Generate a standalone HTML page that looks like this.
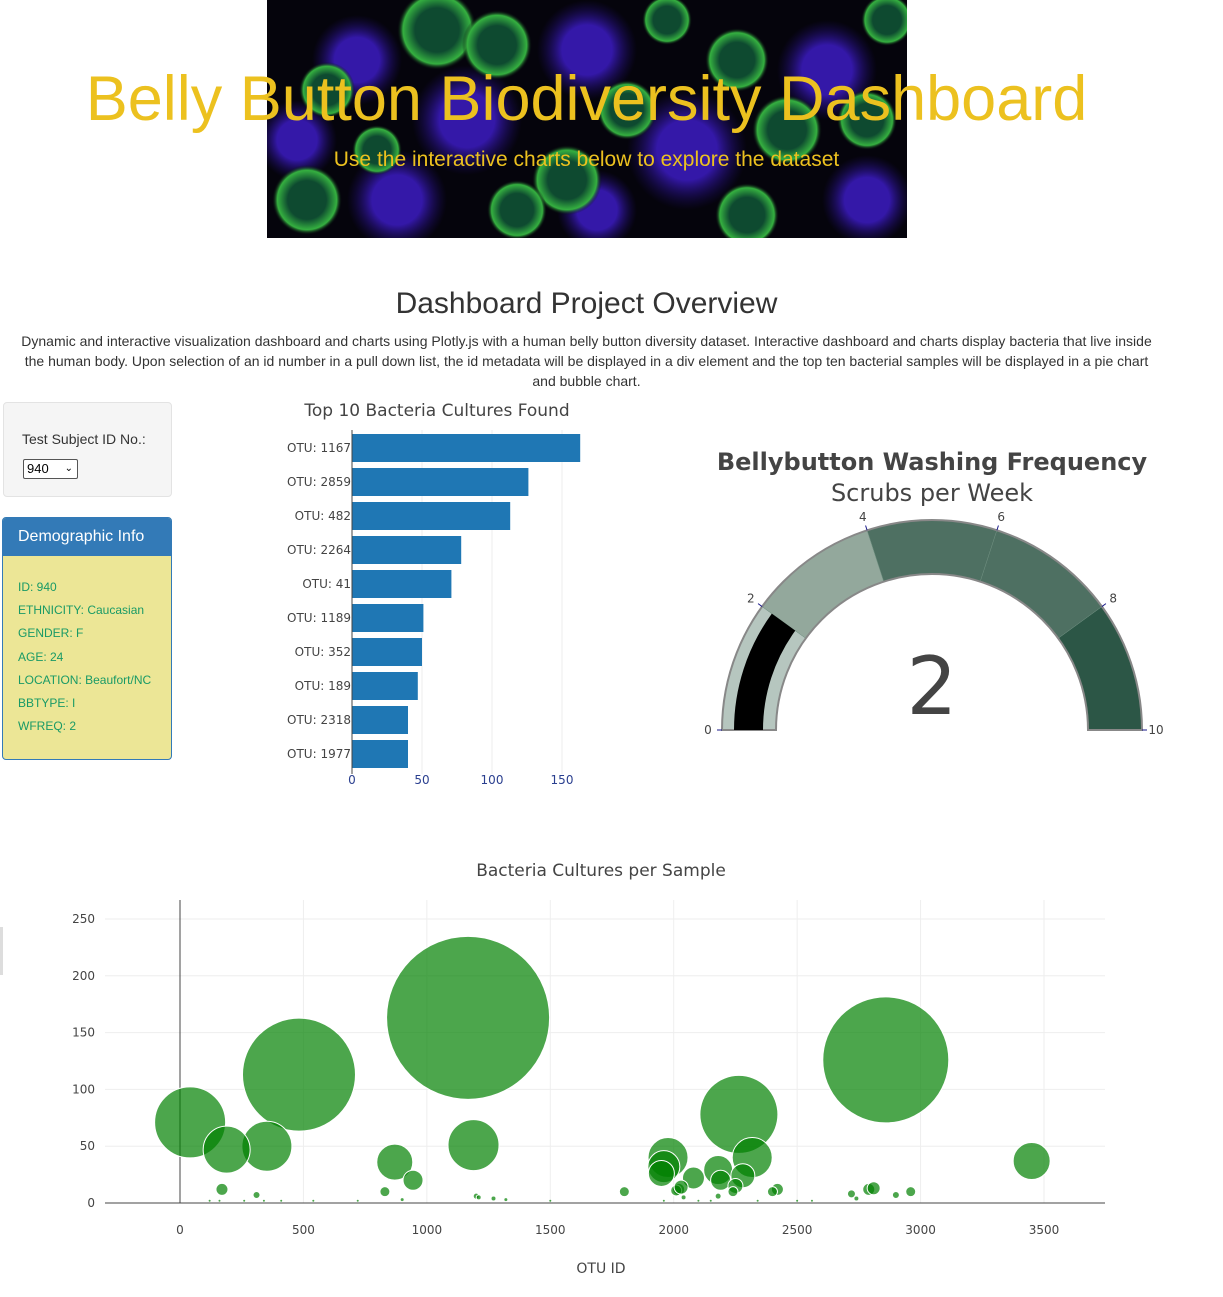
<!DOCTYPE html>
<html><head><meta charset="utf-8">
<style>
body{margin:0;width:1223px;height:1297px;position:relative;background:#fff;font-family:"Liberation Sans",sans-serif;overflow:hidden}
.abs{position:absolute}
#hero{left:267px;top:0;width:640px;height:238px;background:#05040c;overflow:hidden}
</style></head><body>
<div id="hero" class="abs">
<svg width="640" height="238">
<defs><radialGradient id="gc"><stop offset="0.55" stop-color="#0e4a30"/><stop offset="0.85" stop-color="#35b040"/><stop offset="1" stop-color="#05040c" stop-opacity="0"/></radialGradient>
<radialGradient id="bc"><stop offset="0.5" stop-color="#3418a8"/><stop offset="1" stop-color="#1a0a60" stop-opacity="0"/></radialGradient></defs>
<g fill="url(#bc)"><circle cx="90" cy="60" r="45"/><circle cx="200" cy="120" r="55"/><circle cx="320" cy="50" r="50"/><circle cx="420" cy="150" r="60"/><circle cx="560" cy="70" r="50"/><circle cx="130" cy="200" r="50"/><circle cx="600" cy="200" r="45"/><circle cx="30" cy="140" r="40"/><circle cx="330" cy="210" r="40"/></g>
<g fill="url(#gc)"><circle cx="170" cy="30" r="40"/><circle cx="230" cy="45" r="35"/><circle cx="40" cy="200" r="35"/><circle cx="60" cy="90" r="28"/><circle cx="300" cy="180" r="35"/><circle cx="360" cy="110" r="30"/><circle cx="470" cy="60" r="32"/><circle cx="520" cy="130" r="35"/><circle cx="600" cy="120" r="30"/><circle cx="250" cy="210" r="30"/><circle cx="480" cy="215" r="32"/><circle cx="620" cy="20" r="26"/><circle cx="110" cy="150" r="25"/><circle cx="400" cy="20" r="25"/></g>
</svg></div>
<div class="abs" style="left:0;width:1173px;top:63px;text-align:center;font-size:63px;color:#ecc11f">Belly Button Biodiversity Dashboard</div>
<div class="abs" style="left:0;width:1173px;top:148px;text-align:center;font-size:21px;color:#ecc11f">Use the interactive charts below to explore the dataset</div>
<div class="abs" style="left:0;width:1173px;top:287px;text-align:center;font-size:30px;color:#333">Dashboard Project Overview</div>
<div class="abs" style="left:14px;width:1145px;top:331px;text-align:center;font-size:14px;line-height:20px;color:#333">Dynamic and interactive visualization dashboard and charts using Plotly.js with a human belly button diversity dataset. Interactive dashboard and charts display bacteria that live inside the human body. Upon selection of an id number in a pull down list, the id metadata will be displayed in a div element and the top ten bacterial samples will be displayed in a pie chart and bubble chart.</div>

<div class="abs" style="left:3px;top:402px;width:167px;height:93px;background:#f5f5f5;border:1px solid #e3e3e3;border-radius:4px">
<div style="position:absolute;left:18px;top:28px;font-size:14px;color:#333">Test Subject ID No.:</div>
<div style="position:absolute;left:19px;top:56px;border:1px solid #555;border-radius:2px;background:#fff;font-size:13px;line-height:18px;padding-left:3px;box-sizing:border-box;width:55px;height:20px">940<span style="position:absolute;right:4px;top:0;font-size:10px">&#8964;</span></div>
</div>
<div class="abs" style="left:2px;top:517px;width:168px;height:241px;border:1px solid #337ab7;border-radius:4px;background:#ece696;overflow:hidden">
<div style="background:#337ab7;color:#fff;height:38px;font-size:16px;line-height:38px;padding-left:15px">Demographic Info</div>
<div style="padding:20px 0 0 15px;font-size:12px;line-height:23.2px;color:#199a66">ID: 940<br>ETHNICITY: Caucasian<br>GENDER: F<br>AGE: 24<br>LOCATION: Beaufort/NC<br>BBTYPE: I<br>WFREQ: 2</div>
</div>
<div class="abs" style="left:0;top:927px;width:3px;height:48px;background:#ddd"></div>

<svg class="abs" id="bar" style="left:0;top:395px" width="620" height="410"></svg>
<svg class="abs" id="gauge" style="left:620px;top:430px" width="603" height="330"></svg>
<svg class="abs" id="bubble" style="left:0;top:850px" width="1223" height="447"></svg>

<script>
const NS="http://www.w3.org/2000/svg";
function mk(p,t,a,txt){const e=document.createElementNS(NS,t);for(const k in a)e.setAttribute(k,a[k]);if(txt!=null)e.textContent=txt;p.appendChild(e);return e;}
const FV='"DejaVu Sans",sans-serif';

// ---- bar chart data
const barLabels=["OTU: 1167","OTU: 2859","OTU: 482","OTU: 2264","OTU: 41","OTU: 1189","OTU: 352","OTU: 189","OTU: 2318","OTU: 1977"];
const barValues=[163,126,113,78,71,51,50,47,40,40];
const barTicks=[0,50,100,150];
(function(){
 const s=document.getElementById('bar');
 const x0=352,k=1.4,yTop=434-395,step=34;
 const xs=v=>x0+v*k;
 const t=mk(s,'text',{x:437,y:21,'text-anchor':'middle','font-size':17,fill:'#444','font-family':FV},'Top 10 Bacteria Cultures Found');
 
 barTicks.forEach(v=>{ if(v>0){const g=mk(s,'line',{x1:xs(v),x2:xs(v),y1:yTop-4,y2:yTop+step*10,stroke:'#eee'});}
  const l=mk(s,'text',{x:xs(v),y:389,'text-anchor':'middle','font-size':12,fill:'#2a3f8f','font-family':FV},v);
  });
 barValues.forEach((v,i)=>{const y=yTop+i*step;
  const r=mk(s,'rect',{x:x0,y:y,width:v*k,height:28,fill:'#1f77b4'});
  
  const l=mk(s,'text',{x:x0-1,y:y+18,'text-anchor':'end','font-size':12,fill:'#444','font-family':FV},barLabels[i]);
  });
 const ax=mk(s,'line',{x1:x0,x2:x0,y1:yTop-4,y2:yTop+step*10,stroke:'#444'});
 
})();

// ---- gauge data
const gaugeValue=2;
const gaugeMax=10;
const gaugeSteps=[[0,2,'#b6c6bf'],[2,4,'#93a89c'],[4,6,'#4e7062'],[6,8,'#4e7062'],[8,10,'#2c5646']];
const gaugeTicks=[0,2,4,6,8,10];
(function(){
 const s=document.getElementById('gauge');
 const cx=312,cy=300,R=210,r=156;
 const ang=v=>Math.PI*(1-v/gaugeMax);
 const pt=(v,rad)=>[cx+rad*Math.cos(ang(v)),cy-rad*Math.sin(ang(v))];
 function arc(a,b,ro,ri){const p1=pt(a,ro),p2=pt(b,ro),p3=pt(b,ri),p4=pt(a,ri);
  return `M${p1[0]},${p1[1]} A${ro},${ro} 0 0 1 ${p2[0]},${p2[1]} L${p3[0]},${p3[1]} A${ri},${ri} 0 0 0 ${p4[0]},${p4[1]} Z`;}
 let t=mk(s,'text',{x:312,y:40,'text-anchor':'middle','font-size':24,'font-weight':'bold',fill:'#444','font-family':FV},'Bellybutton Washing Frequency');
 
 t=mk(s,'text',{x:312,y:71,'text-anchor':'middle','font-size':24,fill:'#444','font-family':FV},'Scrubs per Week');
 
 gaugeSteps.forEach(st=>{const p=mk(s,'path',{d:arc(st[0],st[1],R,r),fill:st[2],stroke:'#6f8f80','stroke-width':0.5});
  });
 const o=mk(s,'path',{d:arc(0,gaugeMax,R,r),fill:'none',stroke:'#888','stroke-width':2});
 
 const b=mk(s,'path',{d:arc(0,gaugeValue,R-12,r+13),fill:'#000'});
 
 gaugeTicks.forEach(v=>{const a=pt(v,R),c=pt(v,R+5),l=pt(v,R+14);
  const ln=mk(s,'line',{x1:a[0],y1:a[1],x2:c[0],y2:c[1],stroke:'#1a1a8a'});
  const tx=mk(s,'text',{x:l[0],y:l[1]+4,'text-anchor':'middle','font-size':12,fill:'#444','font-family':FV},v);
  });
 t=mk(s,'text',{x:cx,y:284,'text-anchor':'middle','font-size':80,fill:'#444','font-family':FV},gaugeValue);
 
})();

// ---- bubble data
const otuIds=[1167,2859,482,2264,41,1189,352,189,2318,1977,870,944,1960,1950,2080,2180,2190,2280,2250,170,2020,2240,2420,2400,2790,2810,2960,3450,1800,830,2720,2900,310,2010,2030,1200,1210,2740,2040,2180,1270,1320,900,120,160,260,340,410,540,720,1500,1960,2100,2150,2340,2500,2560];
const sampleValues=[163,126,113,78,71,51,50,47,40,40,36,20,32,26,22,29,20,24,15,12,12,10,12,10,12,13,10,37,10,10,8,7,7,11,14,6,5,4,5,6,4,3,3,2,2,2,2,2,2,2,2,2,2,2,2,2,2];
const xTicks=[0,500,1000,1500,2000,2500,3000,3500];
const yTicks=[0,50,100,150,200,250];
(function(){
 const s=document.getElementById('bubble');
 const X=v=>180+v*0.24686, Y=v=>353-v*1.136;
 const L=105,Rt=1105,T=50;
 let t=mk(s,'text',{x:601,y:26,'text-anchor':'middle','font-size':17,fill:'#444','font-family':FV},'Bacteria Cultures per Sample');
 
 xTicks.forEach(v=>{const g=mk(s,'line',{x1:X(v),x2:X(v),y1:T,y2:Y(0),stroke:'#eee'});
  const l=mk(s,'text',{x:X(v),y:384,'text-anchor':'middle','font-size':12,fill:'#444','font-family':FV},v);});
 yTicks.forEach(v=>{const g=mk(s,'line',{x1:L,x2:Rt,y1:Y(v),y2:Y(v),stroke:v?'#eee':'#444'});
  const l=mk(s,'text',{x:95,y:Y(v)+4,'text-anchor':'end','font-size':12,fill:'#444','font-family':FV},v);});
 const ax=mk(s,'line',{x1:X(0),x2:X(0),y1:T,y2:Y(0),stroke:'#444'});
 otuIds.forEach((id,i)=>{const v=sampleValues[i];
  const c=mk(s,'circle',{cx:X(id),cy:Y(v),r:v/2,fill:'rgba(0,128,0,0.7)',stroke:'#fff','stroke-width':v>4?1:0});
  });
 t=mk(s,'text',{x:601,y:423,'text-anchor':'middle','font-size':14,fill:'#444','font-family':FV},'OTU ID');
 
})();
</script>
</body></html>
